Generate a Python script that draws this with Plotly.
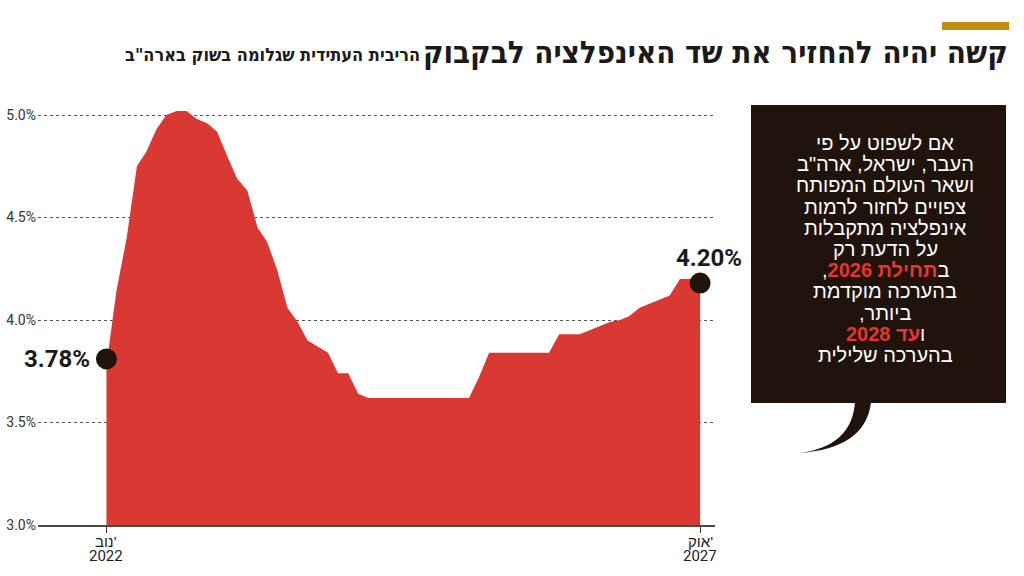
import plotly.graph_objects as go
import pandas as pd

# ---------------- data ----------------
start_month = "2022-11-01"
n_months = 60
months = pd.date_range(start_month, periods=n_months, freq="MS")
rates = [3.78, 4.14, 4.40, 4.75, 4.82, 4.93, 5.00, 5.02, 5.02, 4.98,
         4.96, 4.92, 4.80, 4.69, 4.63, 4.45, 4.38, 4.24, 4.06, 3.99,
         3.90, 3.87, 3.84, 3.74, 3.74, 3.64, 3.62, 3.62, 3.62, 3.62,
         3.62, 3.62, 3.62, 3.62, 3.62, 3.62, 3.62, 3.72, 3.84, 3.84,
         3.84, 3.84, 3.84, 3.84, 3.84, 3.93, 3.93, 3.93, 3.95, 3.97,
         3.99, 4.00, 4.02, 4.06, 4.08, 4.10, 4.12, 4.20, 4.20, 4.20]
end_labels = ["3.78%", "4.20%"]
end_marker_values = [3.81, 4.18]
y_ticks = [3.0, 3.5, 4.0, 4.5, 5.0]
y_tick_labels = ["3.0%", "3.5%", "4.0%", "4.5%", "5.0%"]
x_tick_vals = ["2022-11-01", "2027-10-01"]
LRM, LRE, RLE, PDF = "\u200e", "\u202a", "\u202b", "\u202c"
x_tick_months = ["נוב'", "אוק'"]
x_tick_years = ["2022", "2027"]

title = "קשה יהיה להחזיר את שד האינפלציה לבקבוק"
subtitle = 'הריבית העתידית שגלומה בשוק בארה"ב'
note_lines = [
    "אם לשפוט על פי",
    'העבר, ישראל, ארה"ב',
    "ושאר העולם המפותח",
    "צפויים לחזור לרמות",
    "אינפלציה מתקבלות",
    "על הדעת רק",
    "ב<b><span style='color:#e8352b'>תחילת 2026</span></b>,",
    "בהערכה מוקדמת",
    "ביותר,",
    "ו<b><span style='color:#e8352b'>עד 2028</span></b>",
    "בהערכה שלילית",
]

# ---------------- layout geometry ----------------
W, H = 1024, 576
L, R, T, B = 38, 715, 74, 525


def px(x):
    return (x - L) / (R - L)


def py(y):
    return (B - y) / (B - T)


RED = "#da3832"
DARK = "#1f130b"
NUM_FONT = "Roboto, Liberation Sans, sans-serif"
HEB_BOLD = "DejaVu Sans Condensed, DejaVu Sans, sans-serif"
HEB_TEXT = "Liberation Sans, DejaVu Sans, sans-serif"

fig = go.Figure()
fig.add_trace(go.Scatter(
    x=months, y=rates, mode="lines", fill="tozeroy",
    fillcolor=RED, line=dict(color=RED, width=0), hoverinfo="skip",
    showlegend=False))
fig.add_trace(go.Scatter(
    x=[months[0], months[-1]], y=end_marker_values, mode="markers",
    marker=dict(size=21, color=DARK), showlegend=False, hoverinfo="skip",
    cliponaxis=False))

annotations = []
# end labels
annotations.append(dict(x=months[0], y=end_marker_values[0], xref="x", yref="y",
                        text=f"<b>{end_labels[0]}</b>", showarrow=False,
                        xanchor="right", yanchor="middle", xshift=-14,
                        font=dict(family=NUM_FONT, size=24, color="#1a1a1a")))
annotations.append(dict(x=months[-1], y=end_marker_values[1], xref="x", yref="y",
                        text=f"<b>{end_labels[1]}</b>", showarrow=False,
                        xanchor="center", yanchor="bottom", yshift=9, xshift=9,
                        font=dict(family=NUM_FONT, size=24, color="#1a1a1a")))
# x tick labels (month / year on two tight lines)
for xv, mo, yr in zip(x_tick_vals, x_tick_months, x_tick_years):
    annotations.append(dict(x=xv, y=py(541), xref="x", yref="paper",
                            text=LRM + LRE + mo + PDF + LRM,
                            showarrow=False, xanchor="center", yanchor="middle",
                            font=dict(family=HEB_TEXT, size=15, color="#222")))
    annotations.append(dict(x=xv, y=py(556), xref="x", yref="paper", text=yr,
                            showarrow=False, xanchor="center", yanchor="middle",
                            font=dict(family=NUM_FONT, size=15, color="#222")))
# title
annotations.append(dict(x=px(1010), y=py(52), xref="paper", yref="paper",
                        text=f"<b>{title}</b>", showarrow=False,
                        xanchor="right", yanchor="middle",
                        font=dict(family=HEB_BOLD, size=31, color="#1a1a1a")))
annotations.append(dict(x=px(422), y=py(55), xref="paper", yref="paper",
                        text=f"<b>{subtitle}</b>", showarrow=False,
                        xanchor="right", yanchor="middle",
                        font=dict(family=HEB_BOLD, size=18, color="#1a1a1a")))
# note box text
text_cx = 885
y0, dy = 143, 21.2
for i, line in enumerate(note_lines):
    annotations.append(dict(x=px(text_cx), y=py(y0 + i * dy), xref="paper", yref="paper",
                            text=RLE + line + PDF, showarrow=False,
                            xanchor="center", yanchor="middle",
                            font=dict(family=HEB_TEXT, size=20, color="white")))

shapes = [
    dict(type="rect", xref="paper", yref="paper", x0=px(942), x1=px(1009),
         y0=py(22), y1=py(30), fillcolor="#bf8d14", line=dict(width=0)),
    dict(type="rect", xref="paper", yref="paper", x0=px(751), x1=px(1006),
         y0=py(105), y1=py(403), fillcolor=DARK, line=dict(width=0)),
    dict(type="path", xref="paper", yref="paper",
         path=(f"M {px(855)},{py(402)} Q {px(852)},{py(446)} {px(800)},{py(453)} "
               f"Q {px(866)},{py(448)} {px(871)},{py(402)} Z"),
         fillcolor=DARK, line=dict(width=0)),
]

fig.update_layout(
    width=W, height=H,
    margin=dict(l=L, r=W - R, t=T, b=H - B, pad=0, autoexpand=False),
    paper_bgcolor="white", plot_bgcolor="white",
    annotations=annotations, shapes=shapes,
    xaxis=dict(type="date", range=["2022-04-08", "2027-11-15"],
               tickvals=x_tick_vals, showticklabels=False, automargin=False,
               showgrid=False, zeroline=False, showline=True,
               linecolor="#4a4a40", linewidth=1.5,
               ticks="outside", ticklen=6, tickcolor="#333", tickwidth=1,
               layer="above traces", fixedrange=True),
    yaxis=dict(range=[3.0, 5.2], tickvals=y_ticks, ticktext=y_tick_labels,
               automargin=False,
               showgrid=True, gridcolor="#555", griddash="dot", gridwidth=1,
               zeroline=False, showline=False, ticks="", ticklabelstandoff=1,
               tickfont=dict(family=NUM_FONT, size=14, color="#333"),
               layer="above traces", fixedrange=True),
)

fig.write_html("out.html", config={"displayModeBar": False},
               post_script="document.body.style.margin='0px';document.body.style.overflow='hidden';")
